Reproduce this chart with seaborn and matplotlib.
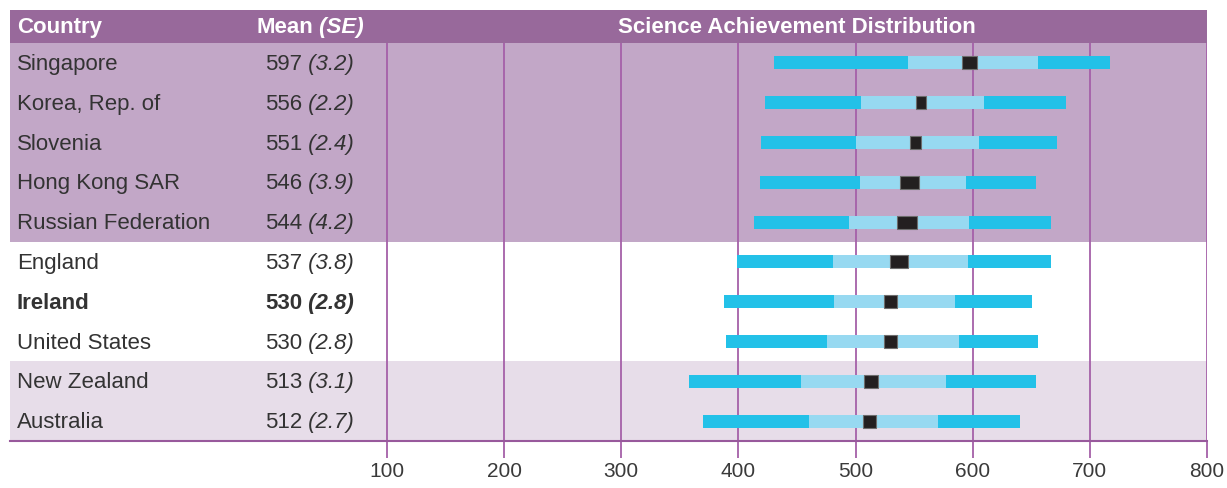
import matplotlib
matplotlib.use("Agg")
import matplotlib.pyplot as plt
from matplotlib.patches import Rectangle
from matplotlib.transforms import blended_transform_factory
import seaborn as sns
import pandas as pd

# ---------------- data ----------------
countries = ["Singapore", "Korea, Rep. of", "Slovenia", "Hong Kong SAR",
             "Russian Federation", "England", "Ireland", "United States",
             "New Zealand", "Australia"]
means = [597, 556, 551, 546, 544, 537, 530, 530, 513, 512]
se = [3.2, 2.2, 2.4, 3.9, 4.2, 3.8, 2.8, 2.8, 3.1, 2.7]
p5 = [430, 423, 419, 418, 413, 399, 388, 389, 358, 370]
p25 = [545, 505, 500, 504, 494, 481, 482, 476, 453, 460]
p75 = [656, 610, 605, 594, 597, 596, 585, 588, 577, 570]
p95 = [717, 680, 672, 654, 667, 667, 651, 656, 654, 640]
x_ticks = [100, 200, 300, 400, 500, 600, 700, 800]
header_labels = ["Country", "Mean", "(SE)", "Science Achievement Distribution"]
highlight = "Ireland"

# ---------------- style ----------------
sns.set_theme(style="white")
plt.rcParams["font.family"] = ["Liberation Sans", "DejaVu Sans"]

W, H = 1227, 488
fig = plt.figure(figsize=(W / 100, H / 100), dpi=100)
fig.patch.set_facecolor("white")

tbl_left, tbl_right = 10, 1207
rows_top, rows_bottom = 43, 441
hdr_top = 10
ax = fig.add_axes([tbl_left / W, 1 - rows_bottom / H,
                   (tbl_right - tbl_left) / W, (rows_bottom - rows_top) / H])

PURPLE_HDR = "#98699B"
BAND_TOP = "#C2A7C7"
BAND_BOT = "#E7DDE9"
GRID = "#A560A8"
LINE = "#98599C"
DARK = "#23C1E8"
LIGHT = "#97D9F1"
MEANC = "#231F20"
TXT = "#333333"

df = pd.DataFrame({
    "country": countries,
    "p5": p5, "p25": p25, "p75": p75, "p95": p95,
    "mean": means, "se": se,
})
df["full"] = df["p95"] - df["p5"]
df["iqr"] = df["p75"] - df["p25"]
df["ci_lo"] = df["mean"] - 2 * df["se"]
df["ci_w"] = 4 * df["se"]

bar_h = 0.33
sns.barplot(data=df, x="full", y="country", left=df["p5"], orient="y",
            width=bar_h, color=DARK, saturation=1, errorbar=None,
            linewidth=0, ax=ax, zorder=3)
sns.barplot(data=df, x="iqr", y="country", left=df["p25"], orient="y",
            width=bar_h, color=LIGHT, saturation=1, errorbar=None,
            linewidth=0, ax=ax, zorder=4)
sns.barplot(data=df, x="ci_w", y="country", left=df["ci_lo"], orient="y",
            width=bar_h, color=MEANC, saturation=1, errorbar=None,
            edgecolor="#6d6d6d", linewidth=0.8, ax=ax, zorder=5)

n = len(countries)
# x scale: 100 at pixel 387, 800 at pixel 1207
px_per_unit = (1207 - 387) / 700.0
x_left = 100 - (387 - tbl_left) / px_per_unit
ax.set_xlim(x_left, 800)
ax.set_ylim(n - 0.5, -0.5)

# background bands
ax.axhspan(-0.5, 4.5, color=BAND_TOP, zorder=0, lw=0)
ax.axhspan(7.5, 9.5, color=BAND_BOT, zorder=0, lw=0)

# gridlines
for t in x_ticks:
    ax.axvline(t, color=GRID, lw=1.3, zorder=1)

ax.set_xticks(x_ticks)
ax.set_xticklabels([str(t) for t in x_ticks], fontsize=15, color="#3a3a3a")
ax.tick_params(axis="x", length=12, width=1.3, color=GRID, pad=3,
               bottom=True, direction="out")
ax.set_yticks([])
ax.set_xlabel("")
ax.set_ylabel("")
for s in ["top", "left", "right"]:
    ax.spines[s].set_visible(False)
ax.spines["bottom"].set_color(LINE)
ax.spines["bottom"].set_linewidth(1.5)
ax.spines["bottom"].set_zorder(6)

# text columns
tr = blended_transform_factory(ax.transAxes, ax.transData)
span = tbl_right - tbl_left
x_country = (17 - tbl_left) / span
x_mean = (265 - tbl_left) / span
for i, c in enumerate(countries):
    w = "bold" if c == highlight else "normal"
    ax.text(x_country, i + 0.04, c, transform=tr, ha="left", va="center",
            fontsize=16, color=TXT, fontweight=w, zorder=6)
    t1 = ax.text(x_mean, i + 0.04, f"{means[i]}", transform=tr, ha="left",
                 va="center", fontsize=16, color=TXT, fontweight=w, zorder=6)
    ax.annotate(f" ({se[i]:.1f})", xy=(1, 0), xycoords=t1, ha="left",
                va="bottom", fontsize=16, color=TXT, fontweight=w,
                fontstyle="italic", zorder=6)

# header
fig.add_artist(Rectangle((tbl_left / W, 1 - rows_top / H),
                         (tbl_right - tbl_left) / W, (rows_top - hdr_top) / H,
                         transform=fig.transFigure, facecolor=PURPLE_HDR,
                         edgecolor="none", zorder=0))
hy = 1 - ((hdr_top + rows_top) / 2 + 1) / H
fig.text(17 / W, hy, header_labels[0], ha="left", va="center",
         fontsize=16, color="white", fontweight="bold")
tm = fig.text(256 / W, hy, header_labels[1], ha="left", va="center",
              fontsize=16, color="white", fontweight="bold")
plt.annotate(" " + header_labels[2], xy=(1, 0), xycoords=tm, ha="left",
             va="bottom", fontsize=16, color="white", fontweight="bold",
             fontstyle="italic", annotation_clip=False)
fig.text(((387 + 1207) / 2) / W, hy, header_labels[3], ha="center",
         va="center", fontsize=16, color="white", fontweight="bold")

fig.savefig("out.png", dpi=100, facecolor="white")
